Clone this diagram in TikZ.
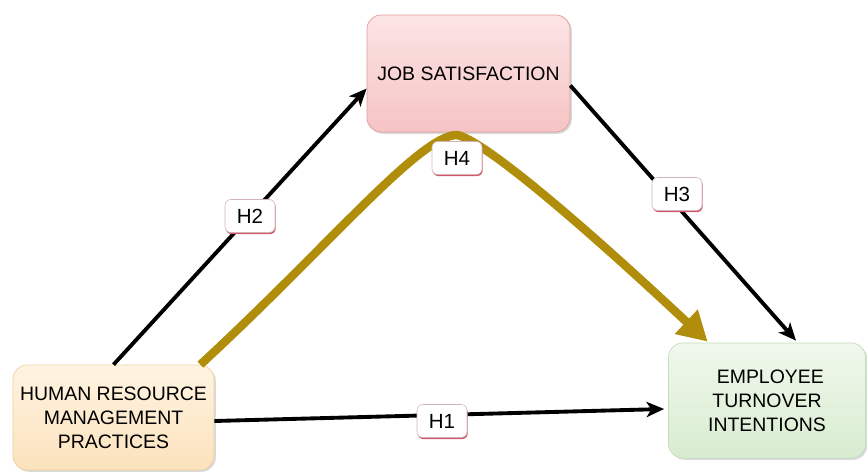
\documentclass[tikz,border=0pt]{standalone}
\usepackage{fontspec}
\setmainfont{Liberation Sans}
\usetikzlibrary{arrows.meta,shadows,calc}
\definecolor{oliveline}{HTML}{B08D0A}
\definecolor{jobtop}{HTML}{FCE4E4}
\definecolor{jobbot}{HTML}{F6C4C4}
\definecolor{jobdraw}{HTML}{DE9C9C}
\definecolor{hrmtop}{HTML}{FFF4E2}
\definecolor{hrmbot}{HTML}{FBE2BC}
\definecolor{hrmdraw}{HTML}{F0D2A0}
\definecolor{etitop}{HTML}{F0F8EC}
\definecolor{etibot}{HTML}{D8ECD0}
\definecolor{etidraw}{HTML}{C6DEBE}
\definecolor{labdraw}{HTML}{D2B4B8}
\definecolor{labshadow}{HTML}{D05868}
\begin{document}
\begin{tikzpicture}[x=0.03cm,y=-0.03cm,
  box/.style={rounded corners=12pt, align=center, inner sep=0pt,
    font=\fontsize{16.6}{20.5}\selectfont, line width=0.6pt,
    drop shadow={opacity=0.3, shadow xshift=1.5pt, shadow yshift=-1.5pt}},
  hlab/.style={rounded corners=5pt, fill=white, draw=labdraw, line width=0.5pt,
    minimum width=1.5cm, minimum height=0.99cm, inner sep=0pt,
    font=\fontsize{17.5}{17.5}\selectfont,
    general shadow={fill=labshadow, shadow xshift=0.6pt, shadow yshift=-1.4pt}},
  conn/.style={line width=3.3pt, -{Stealth[length=15pt,width=13pt,inset=4pt]}},
  olconn/.style={line width=7.2pt, color=oliveline, -{Triangle[length=25pt,width=27pt]}}]
\useasboundingbox (0,0) rectangle (867,476);

\node[box, top color=jobtop, bottom color=jobbot, draw=jobdraw,
  minimum width=6.09cm, minimum height=3.51cm] (job) at (468.5,73.5) {JOB SATISFACTION};
\node[box, top color=hrmtop, bottom color=hrmbot, draw=hrmdraw,
  minimum width=6.03cm, minimum height=3.15cm] (hrm) at (113.5,417.5)
  {HUMAN RESOURCE\\MANAGEMENT\\PRACTICES};
\node[box, top color=etitop, bottom color=etibot, draw=etidraw,
  minimum width=5.91cm, minimum height=3.45cm] (eti) at (767,400.5)
  {\hspace*{0.2cm}EMPLOYEE\\TURNOVER\\INTENTIONS};

\draw[conn] (hrm.north) -- ([yshift=-0.45cm]job.west);
\draw[conn] ([yshift=-0.36cm]job.east) -- ([xshift=0.87cm,yshift=0.06cm]eti.north);
\draw[conn] ([yshift=-0.105cm]hrm.east) -- ([xshift=-0.12cm,yshift=-0.255cm]eti.west);
\draw[olconn] ([xshift=-0.42cm]hrm.north east)
  .. controls (330,245) and (420,135) .. (457,135)
  .. controls (475,138) and (540,185) .. ([xshift=1.185cm,yshift=0.03cm]eti.north west);

\node[hlab] (h2) at (250,216) {H2};
\node[hlab] (h3) at (677,194) {H3};
\node[hlab] (h1) at (442,421) {H1};
\node[hlab] (h4) at (457,158) {H4};
\end{tikzpicture}
\end{document}
